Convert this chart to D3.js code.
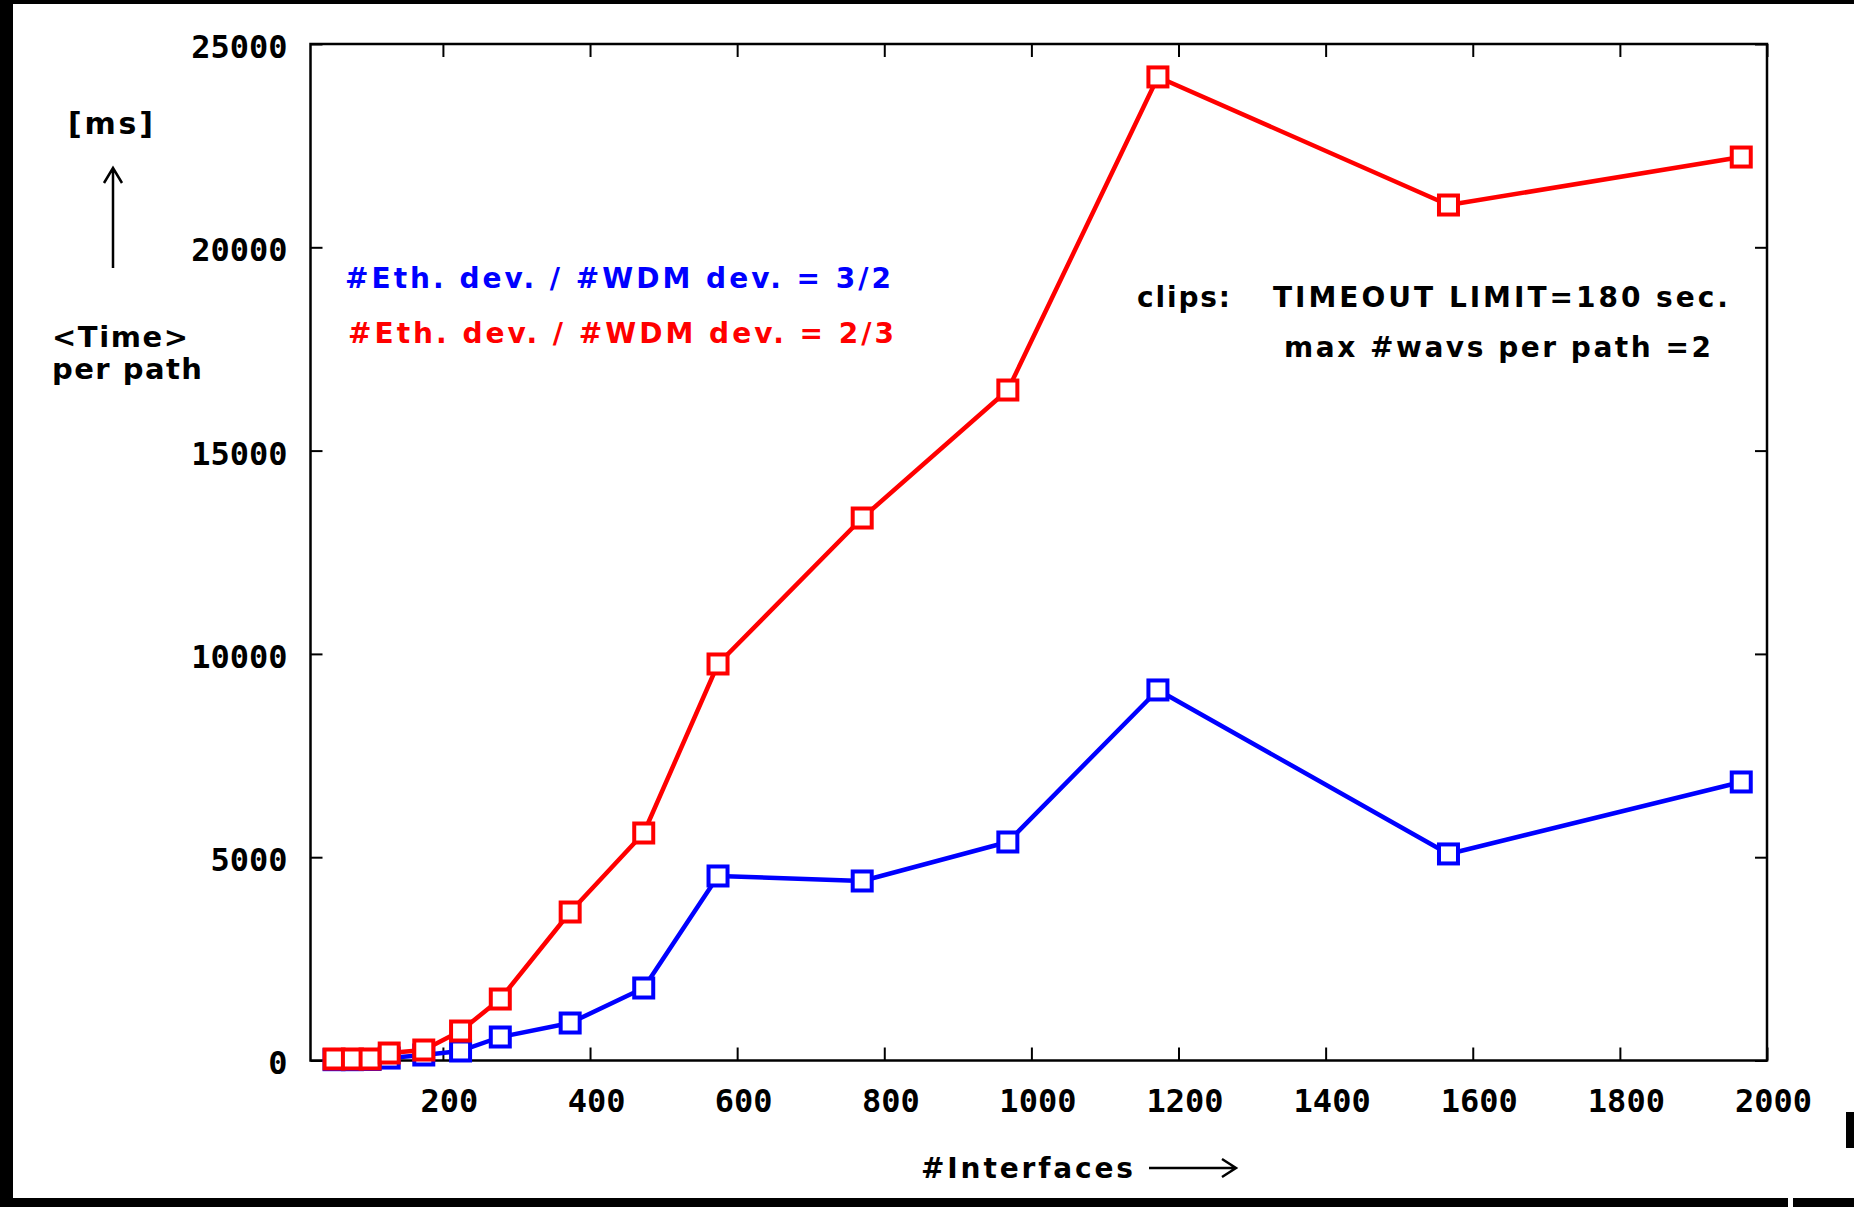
<!DOCTYPE html>
<html>
<head>
<meta charset="utf-8">
<script src="https://cdn.jsdelivr.net/npm/d3@7"></script>
<style>
  body { margin: 0; background: #000; }
  svg { display: block; }
</style>
</head>
<body>
<svg id="chart"></svg>
<script>
// values
const interfaces = [52, 77, 101, 127, 174, 224, 278, 373, 473, 574, 770, 968, 1172, 1567, 1965];
const timeRatio23 = [37, 37, 37, 184, 258, 725, 1512, 3652, 5595, 9752, 13342, 16490, 24190, 21040, 22220];
const timeRatio32 = [20, 20, 25, 60, 135, 234, 578, 922, 1783, 4538, 4415, 5374, 9113, 5080, 6850];
const xTicks = [200, 400, 600, 800, 1000, 1200, 1400, 1600, 1800, 2000];
const yTicks = [0, 5000, 10000, 15000, 20000, 25000];
const legendLabels = ["#Eth. dev. / #WDM dev. = 3/2", "#Eth. dev. / #WDM dev. = 2/3"];

const W = 1854, H = 1207;
const box = {left: 310.5, right: 1767, top: 44, bottom: 1060.5};
const tickFont = "'DejaVu Sans Mono', monospace";
const textFont = "'DejaVu Sans', Verdana, sans-serif";

let svg = d3.select("#chart")
  .attr("width", W)
  .attr("height", H);

// page (black edges round a white sheet)
svg.append("rect").attr("width", W).attr("height", H).attr("fill", "#000");
svg.append("rect")
  .attr("x", 13).attr("y", 4)
  .attr("width", W - 13).attr("height", 1198 - 4)
  .attr("fill", "#fff");
svg.append("rect").attr("x", 1846).attr("y", 1112).attr("width", 8).attr("height", 36).attr("fill", "#000");
svg.append("rect").attr("x", 1788).attr("y", 1198).attr("width", 5).attr("height", 9).attr("fill", "#fff");

let x = d3.scaleLinear().domain([20, 2000]).range([box.left, box.right]);
let y = d3.scaleLinear().domain([0, 25000]).range([box.bottom, box.top]);

function styleAxis(g) {
  g.select(".domain").remove();
  g.selectAll(".tick line").attr("stroke", "#000").attr("stroke-width", 2);
  g.attr("font-family", tickFont).attr("font-size", 32).attr("font-weight", "bold");
  g.selectAll("text").attr("fill", "#000");
}

// bottom axis with labels
svg.append("g")
  .attr("transform", "translate(0," + box.bottom + ")")
  .call(d3.axisBottom(x).tickValues(xTicks).tickSize(-13).tickPadding(29).tickFormat(d3.format("d")))
  .call(styleAxis)
  .selectAll("text").attr("dx", 6);

// top mirror ticks
svg.append("g")
  .attr("transform", "translate(0," + box.top + ")")
  .call(d3.axisTop(x).tickValues(xTicks).tickSize(-13).tickFormat(""))
  .call(styleAxis);

// left axis with labels
svg.append("g")
  .attr("transform", "translate(" + box.left + ",0)")
  .call(d3.axisLeft(y).tickValues(yTicks).tickSize(-12).tickPadding(23).tickFormat(d3.format("d")))
  .call(styleAxis)
  .selectAll("text").attr("dy", "0.42em");

// right mirror ticks
svg.append("g")
  .attr("transform", "translate(" + box.right + ",0)")
  .call(d3.axisRight(y).tickValues(yTicks).tickSize(-12).tickFormat(""))
  .call(styleAxis);

// frame
svg.append("rect")
  .attr("x", box.left).attr("y", box.top)
  .attr("width", box.right - box.left).attr("height", box.bottom - box.top)
  .attr("fill", "none").attr("stroke", "#000").attr("stroke-width", 2.5);

// series
const series = [
  {name: legendLabels[0], color: "#0000ff", values: interfaces.map((v, i) => ({x: v, y: timeRatio32[i]}))},
  {name: legendLabels[1], color: "#ff0000", values: interfaces.map((v, i) => ({x: v, y: timeRatio23[i]}))}
];

const line = d3.line().x(d => x(d.x)).y(d => y(d.y));
const mk = 19;

series.forEach(function(s) {
  svg.append("path")
    .datum(s.values)
    .attr("d", line)
    .attr("fill", "none")
    .attr("stroke", s.color)
    .attr("stroke-width", 4.5)
    .attr("stroke-linejoin", "round");

  svg.append("g").selectAll("rect")
    .data(s.values)
    .enter().append("rect")
      .attr("x", d => x(d.x) - mk / 2)
      .attr("y", d => y(d.y) - mk / 2)
      .attr("width", mk)
      .attr("height", mk)
      .attr("fill", "#fff")
      .attr("stroke", s.color)
      .attr("stroke-width", 4);
});

// legend texts
let legend = svg.selectAll(".legend")
  .data(series)
  .enter().append("text")
    .attr("class", "legend")
    .attr("x", (d, i) => i === 0 ? 345 : 348)
    .attr("y", (d, i) => i === 0 ? 288 : 343)
    .attr("fill", d => d.color)
    .attr("font-family", textFont)
    .attr("font-weight", "bold")
    .attr("font-size", 28)
    .attr("textLength", 546)
    .attr("lengthAdjust", "spacing")
    .text(d => d.name);

// annotations
function note(txt, x0, y0, len, size) {
  svg.append("text")
    .attr("x", x0).attr("y", y0)
    .attr("fill", "#000")
    .attr("font-family", textFont)
    .attr("font-weight", "bold")
    .attr("font-size", size || 28)
    .attr("textLength", len)
    .attr("lengthAdjust", "spacing")
    .text(txt);
}

note("[ms]", 68, 134, 85, 30);
note("<Time>", 52, 347, 136, 29);
note("per path", 52, 379, 150, 29);
note("clips:", 1137, 307, 93);
note("TIMEOUT LIMIT=180 sec.", 1273, 307, 455);
note("max #wavs per path =2", 1284, 357, 427);
note("#Interfaces", 921, 1178, 212);

// up arrow next to the y label
svg.append("path")
  .attr("d", "M113,268 V168 M104,183 L113,168 L122,183")
  .attr("fill", "none").attr("stroke", "#000").attr("stroke-width", 2.5);

// long arrow after the x label
svg.append("path")
  .attr("d", "M1149,1168 H1236 M1222,1159 L1236,1168 L1222,1177")
  .attr("fill", "none").attr("stroke", "#000").attr("stroke-width", 2.5);
</script>
</body>
</html>
